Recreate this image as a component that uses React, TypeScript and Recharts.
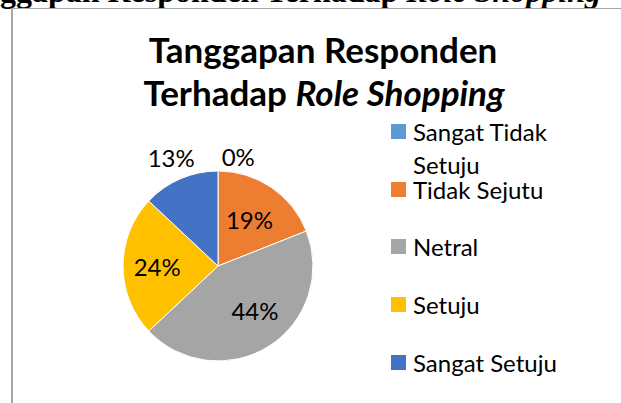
import React from "react";
import { PieChart, Pie, Cell, Legend } from "recharts";

const categories = ["Sangat Tidak Setuju", "Tidak Sejutu", "Netral", "Setuju", "Sangat Setuju"];
const percentages = [0, 19, 44, 24, 13];
const colors = ["#5B9BD5", "#ED7D31", "#A5A5A5", "#FFC000", "#4472C4"];
const titleLine1 = "Tanggapan Responden";
const titleLine2a = "Terhadap ";
const titleLine2b = "Role Shopping";
const pageHeading = "Tanggapan Responden Terhadap ";

// label placement (radius factor, angle shift in degrees) — style only
const labelRadius = [1.17, 0.59, 0.605, 0.64, 1.24];
const labelShift = [-10.5, 0, 7.6, 0, 0];

const data = categories.map((name, i) => ({ name, value: percentages[i] }));

const FONT = "Lato, 'Noto Sans', sans-serif";
const RAD = Math.PI / 180;

const renderLabel = (props: any) => {
  const { cx, cy, midAngle, outerRadius, index, value } = props;
  const ang = (midAngle + labelShift[index]) * RAD;
  const r = outerRadius * labelRadius[index];
  const x = cx + r * Math.cos(ang);
  const y = cy - r * Math.sin(ang);
  return (
    <text
      key={`lbl-${index}`}
      x={x}
      y={y}
      textAnchor="middle"
      dominantBaseline="central"
      fill="#000"
      fontFamily={FONT}
      fontSize={24}
    >
      {`${value}%`}
    </text>
  );
};

const renderLegend = (props: any) => {
  const payload = [...(props.payload || [])].sort(
    (a: any, b: any) => categories.indexOf(a.value) - categories.indexOf(b.value)
  );
  return (
    <div style={{ position: "relative", width: 220, height: 260, fontFamily: FONT, fontSize: 24, color: "#000" }}>
      {payload.map((entry: any, i: number) => (
        <div key={i} style={{ position: "absolute", left: 0, top: i * 57.7, display: "flex", alignItems: "flex-start" }}>
          <div style={{ width: 15, height: 15, background: entry.color, marginTop: 6, marginRight: 7, flex: "none" }} />
          <div style={{ width: 170, lineHeight: "33px", marginTop: -3 }}>{entry.value}</div>
        </div>
      ))}
    </div>
  );
};

export default function App() {
  return (
    <div style={{ position: "absolute", left: 0, top: 0, width: 621, height: 403, background: "#fff", overflow: "hidden" }}>
      <svg width={621} height={403} style={{ position: "absolute", left: 0, top: 0 }}>
        <text
          x={601}
          y={1.5}
          textAnchor="end"
          fontFamily="'Liberation Serif', 'Times New Roman', serif"
          fontWeight="bold"
          fontSize={32}
          fill="#000"
        >
          {pageHeading}
          <tspan fontStyle="italic">{titleLine2b}</tspan>
        </text>
        <line x1={12} y1={8.5} x2={621} y2={8.5} stroke="#a6a6a6" strokeWidth={1} />
        <line x1={12} y1={8} x2={12} y2={403} stroke="#a6a6a6" strokeWidth={2} />
        <text x={323} y={63} textAnchor="middle" fontFamily={FONT} fontWeight="bold" fontSize={35} fill="#000">
          {titleLine1}
        </text>
        <text x={324} y={106} textAnchor="middle" fontFamily={FONT} fontWeight="bold" fontSize={35} fill="#000">
          {titleLine2a}
          <tspan fontStyle="italic">{titleLine2b}</tspan>
        </text>
      </svg>
      <div style={{ position: "absolute", left: 0, top: 0 }}>
        <PieChart width={621} height={403} margin={{ top: 0, right: 0, bottom: 0, left: 0 }}>
          <Pie
            data={data}
            dataKey="value"
            nameKey="name"
            cx={218}
            cy={266}
            outerRadius={95}
            startAngle={90}
            endAngle={-270}
            stroke="#fff"
            strokeWidth={1}
            label={renderLabel}
            labelLine={false}
            isAnimationActive={false}
          >
            {data.map((d, i) => (
              <Cell key={d.name} fill={colors[i]} />
            ))}
          </Pie>
          <Legend
            layout="vertical"
            align="right"
            verticalAlign="top"
            content={renderLegend}
            wrapperStyle={{ position: "absolute", left: 391, top: 118, width: 230 }}
          />
        </PieChart>
      </div>
    </div>
  );
}
